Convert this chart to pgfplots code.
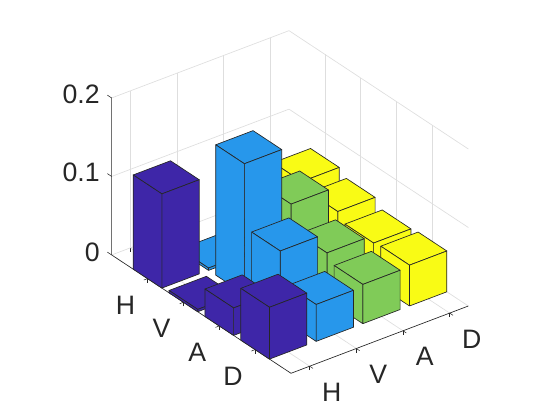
\documentclass[border=0pt]{standalone}
\usepackage{fontspec}
\setmainfont{Liberation Sans}
\usepackage{pgfplots}
\pgfplotsset{compat=1.18}
\definecolor{cA}{HTML}{3E26A8}
\definecolor{cB}{HTML}{2797EB}
\definecolor{cC}{HTML}{80CB58}
\definecolor{cD}{HTML}{F9FB15}
\definecolor{gridc}{HTML}{DEDEDE}
\definecolor{axc}{HTML}{262626}
% one bar: x low, x high, y low, y high, height, colour (three visible faces)
\newcommand\onebar[6]{%
  \addplot3[draw=axc,line width=0.5pt,fill=#6,line join=round] coordinates {(#1,#3,#5) (#2,#3,#5) (#2,#4,#5) (#1,#4,#5) (#1,#3,#5)};
  \addplot3[draw=axc,line width=0.5pt,fill=#6,line join=round] coordinates {(#1,#3,0) (#2,#3,0) (#2,#3,#5) (#1,#3,#5) (#1,#3,0)};
  \addplot3[draw=axc,line width=0.5pt,fill=#6,line join=round] coordinates {(#1,#3,0) (#1,#4,0) (#1,#4,#5) (#1,#3,#5) (#1,#3,0)};
}
\begin{document}
\begin{tikzpicture}
\begin{axis}[
  x={(35.0pt,13.28pt)}, y={(-26.9pt,17.75pt)}, z={(0pt,588.75pt)},
  xmin=0.6,xmax=4.4,ymin=0,ymax=5,zmin=0,zmax=0.2,
  xtick={1,2,3,4}, xticklabels={H,V,A,D},
  ytick={1,2,3,4}, yticklabels={D,A,V,H},
  ztick={0,0.1,0.2}, zticklabels={0,0.1,0.2},
  grid=major, major grid style={gridc,line width=0.5pt},
  axis line style={draw=none},
  tick pos=left, tick align=outside,
  tick style={axc,line width=0.4pt},
  z tick style={draw=none},
  major tick length=3pt,
  ticklabel style={font=\fontsize{20}{22}\selectfont,text=axc},
  xticklabel style={xshift=7.5pt,yshift=-6pt},
  yticklabel style={xshift=-5.5pt,yshift=-7pt},
  zticklabel style={xshift=-3pt,yshift=-0.7pt},
  clip=false,
]
\coordinate (F) at (axis cs:0.6,0,0);
\addplot3[axc,line width=0.5pt] coordinates {(0.6,5,0.2) (0.6,5,0) (0.6,0,0) (4.4,0,0)};
\addplot3[axc,line width=0.4pt] coordinates {(0.6,5,0.2) (0.6,5.12,0.2)};
\addplot3[axc,line width=0.4pt] coordinates {(0.6,5,0.1) (0.6,5.12,0.1)};
\addplot3[axc,line width=0.4pt] coordinates {(0.6,5,0) (0.6,5.12,0)};
% row H
\onebar{3.6}{4.4}{3.6}{4.4}{0.068}{cD}
\onebar{2.6}{3.4}{3.6}{4.4}{0.010}{cC}
\onebar{1.6}{2.4}{3.6}{4.4}{0.003}{cB}
\onebar{0.6}{1.4}{3.6}{4.4}{0.120}{cA}
% row V
\onebar{3.6}{4.4}{2.6}{3.4}{0.060}{cD}
\onebar{2.6}{3.4}{2.6}{3.4}{0.092}{cC}
\onebar{1.6}{2.4}{2.6}{3.4}{0.166}{cB}
\onebar{0.6}{1.4}{2.6}{3.4}{0.003}{cA}
% row A
\onebar{3.6}{4.4}{1.6}{2.4}{0.050}{cD}
\onebar{2.6}{3.4}{1.6}{2.4}{0.060}{cC}
\onebar{1.6}{2.4}{1.6}{2.4}{0.085}{cB}
\onebar{0.6}{1.4}{1.6}{2.4}{0.035}{cA}
% row D
\onebar{3.6}{4.4}{0.6}{1.4}{0.052}{cD}
\onebar{2.6}{3.4}{0.6}{1.4}{0.050}{cC}
\onebar{1.6}{2.4}{0.6}{1.4}{0.047}{cB}
\onebar{0.6}{1.4}{0.6}{1.4}{0.066}{cA}
\end{axis}
\pgfresetboundingbox
\path[use as bounding box,shift={(F)}] (-218.25pt,-35.03pt) rectangle (201.75pt,279.97pt);
\end{tikzpicture}
\end{document}
